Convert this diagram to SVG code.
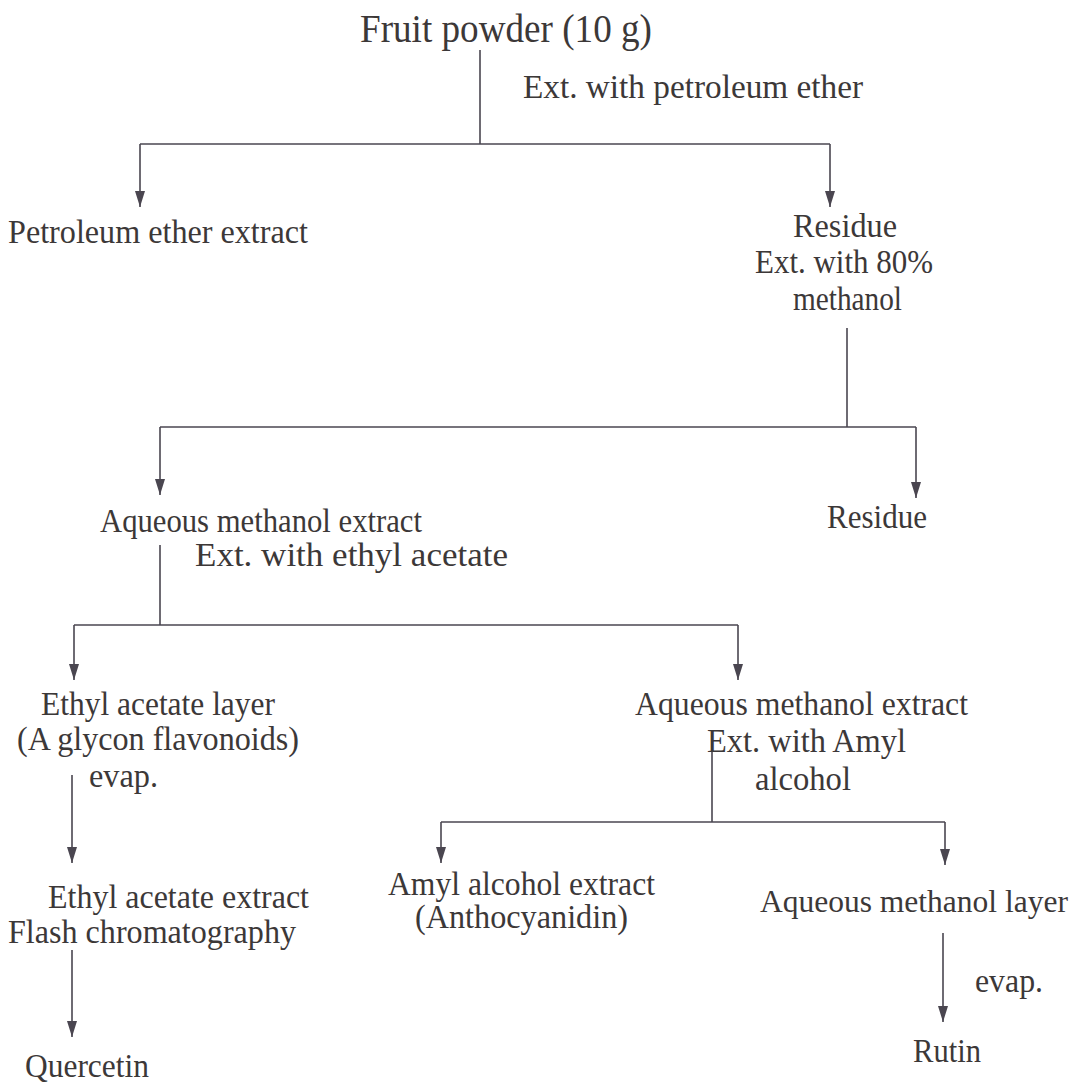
<svg xmlns="http://www.w3.org/2000/svg" width="1076" height="1082" viewBox="0 0 1076 1082">
<style>
text { font-family: "Liberation Serif", "Times New Roman", serif; font-size: 33px; fill: #3c3838; }
.title { font-size: 39px; }
.small { font-size: 31.5px; }
.conn line { stroke: #4a4650; stroke-width: 1.6; fill: none; }
</style>
<defs>
<marker id="arr" markerUnits="userSpaceOnUse" markerWidth="16" markerHeight="12" refX="16" refY="6" orient="auto" viewBox="0 0 16 12">
<path d="M0,1 L16,6 L0,11 Z" fill="#4a4650"/>
</marker>
</defs>
<rect width="1076" height="1082" fill="#ffffff"/>
<g class="conn" id="connectors">
<line x1="480" y1="50" x2="480" y2="144"/>
<line x1="140" y1="144" x2="830" y2="144"/>
<line x1="140" y1="144" x2="140" y2="207" marker-end="url(#arr)"/>
<line x1="830" y1="144" x2="830" y2="207" marker-end="url(#arr)"/>
<line x1="847" y1="328" x2="847" y2="427"/>
<line x1="160" y1="427" x2="916" y2="427"/>
<line x1="160" y1="427" x2="160" y2="495" marker-end="url(#arr)"/>
<line x1="916" y1="427" x2="916" y2="498" marker-end="url(#arr)"/>
<line x1="160" y1="545" x2="160" y2="625"/>
<line x1="74" y1="625" x2="738" y2="625"/>
<line x1="74" y1="625" x2="74" y2="680" marker-end="url(#arr)"/>
<line x1="738" y1="625" x2="738" y2="680" marker-end="url(#arr)"/>
<line x1="712" y1="735" x2="712" y2="822"/>
<line x1="441" y1="822" x2="945" y2="822"/>
<line x1="441" y1="822" x2="441" y2="863" marker-end="url(#arr)"/>
<line x1="945" y1="822" x2="945" y2="865" marker-end="url(#arr)"/>
<line x1="72" y1="775" x2="72" y2="863" marker-end="url(#arr)"/>
<line x1="72" y1="950" x2="72" y2="1037" marker-end="url(#arr)"/>
<line x1="943" y1="933" x2="943" y2="1022" marker-end="url(#arr)"/>
</g>
<g id="n-fruit"><text class="title" x="360" y="42" textLength="292" lengthAdjust="spacingAndGlyphs">Fruit powder (10 g)</text></g>
<g id="l-petether"><text x="523" y="98" textLength="340" lengthAdjust="spacingAndGlyphs">Ext. with petroleum ether</text></g>
<g id="n-petext"><text x="8" y="243" textLength="300" lengthAdjust="spacingAndGlyphs">Petroleum ether extract</text></g>
<g id="n-residue1">
<text x="793" y="237" textLength="104" lengthAdjust="spacingAndGlyphs">Residue</text>
<text x="755" y="273" textLength="178" lengthAdjust="spacingAndGlyphs">Ext. with 80%</text>
<text x="793" y="310" textLength="109" lengthAdjust="spacingAndGlyphs">methanol</text>
</g>
<g id="n-aqmeth1">
<text x="100" y="532" textLength="322" lengthAdjust="spacingAndGlyphs">Aqueous methanol extract</text>
<text x="195" y="566" textLength="313" lengthAdjust="spacingAndGlyphs">Ext. with ethyl acetate</text>
</g>
<g id="n-residue2"><text x="827" y="528" textLength="100" lengthAdjust="spacingAndGlyphs">Residue</text></g>
<g id="n-ethylayer">
<text x="41" y="715" textLength="234" lengthAdjust="spacingAndGlyphs">Ethyl acetate layer</text>
<text x="17" y="750" textLength="282" lengthAdjust="spacingAndGlyphs">(A glycon flavonoids)</text>
<text x="89" y="787" textLength="69" lengthAdjust="spacingAndGlyphs">evap.</text>
</g>
<g id="n-aqmeth2">
<text x="635" y="715" textLength="333" lengthAdjust="spacingAndGlyphs">Aqueous methanol extract</text>
<text x="707" y="752" textLength="199" lengthAdjust="spacingAndGlyphs">Ext. with Amyl</text>
<text x="755" y="790" textLength="96" lengthAdjust="spacingAndGlyphs">alcohol</text>
</g>
<g id="n-ethylext">
<text x="48" y="908" textLength="261" lengthAdjust="spacingAndGlyphs">Ethyl acetate extract</text>
<text x="8" y="943" textLength="288" lengthAdjust="spacingAndGlyphs">Flash chromatography</text>
</g>
<g id="n-amyl">
<text x="388" y="895" textLength="267" lengthAdjust="spacingAndGlyphs">Amyl alcohol extract</text>
<text x="415" y="928" textLength="213" lengthAdjust="spacingAndGlyphs">(Anthocyanidin)</text>
</g>
<g id="n-aqlayer">
<text class="small" x="760" y="912">Aqueous methanol layer</text>
<text x="975" y="992" textLength="68" lengthAdjust="spacingAndGlyphs">evap.</text>
</g>
<g id="n-quercetin"><text x="25" y="1077" textLength="124" lengthAdjust="spacingAndGlyphs">Quercetin</text></g>
<g id="n-rutin"><text x="913" y="1062" textLength="68" lengthAdjust="spacingAndGlyphs">Rutin</text></g>
</svg>
